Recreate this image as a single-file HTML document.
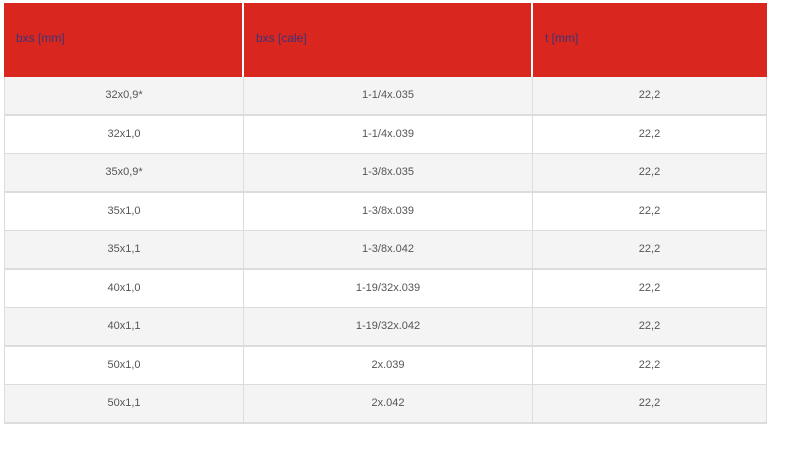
<!DOCTYPE html>
<html><head><style>
body{margin:0;width:785px;height:451px;background:#fff;font-family:"Liberation Sans",sans-serif;position:relative;overflow:hidden}
*{box-sizing:border-box}
.h{position:absolute;top:3px;height:74px;background:#d9261f;color:#3b3475;font-size:12px;line-height:74px}
.h span{position:absolute;top:-2px;left:12px}
.r{position:absolute;left:4px;width:763px;height:39px;border-bottom:2px solid #dcdcdc;font-size:11px;color:#555;line-height:37px}
.r div{position:absolute;top:0;height:37px;text-align:center;border-left:1px solid #dcdcdc}
.c1{left:0;width:239px}.c2{left:239px;width:289px}.c3{left:528px;width:235px;border-right:1px solid #dcdcdc}
</style></head><body>
<div class="h" style="left:4px;width:238px"><span>bxs [mm]</span></div>
<div class="h" style="left:244px;width:287px"><span>bxs [cale]</span></div>
<div class="h" style="left:533px;width:234px"><span>t [mm]</span></div>
<div class="r" style="top:77px;background:#f4f4f4"><div class="c1">32x0,9*</div><div class="c2">1-1/4x.035</div><div class="c3">22,2</div></div>
<div class="r" style="top:116px"><div class="c1">32x1,0</div><div class="c2">1-1/4x.039</div><div class="c3">22,2</div></div>
<div class="r" style="top:154px;background:#f4f4f4"><div class="c1">35x0,9*</div><div class="c2">1-3/8x.035</div><div class="c3">22,2</div></div>
<div class="r" style="top:193px"><div class="c1">35x1,0</div><div class="c2">1-3/8x.039</div><div class="c3">22,2</div></div>
<div class="r" style="top:231px;background:#f4f4f4"><div class="c1">35x1,1</div><div class="c2">1-3/8x.042</div><div class="c3">22,2</div></div>
<div class="r" style="top:270px"><div class="c1">40x1,0</div><div class="c2">1-19/32x.039</div><div class="c3">22,2</div></div>
<div class="r" style="top:308px;background:#f4f4f4"><div class="c1">40x1,1</div><div class="c2">1-19/32x.042</div><div class="c3">22,2</div></div>
<div class="r" style="top:347px"><div class="c1">50x1,0</div><div class="c2">2x.039</div><div class="c3">22,2</div></div>
<div class="r" style="top:385px;background:#f4f4f4"><div class="c1">50x1,1</div><div class="c2">2x.042</div><div class="c3">22,2</div></div>
</body></html>
